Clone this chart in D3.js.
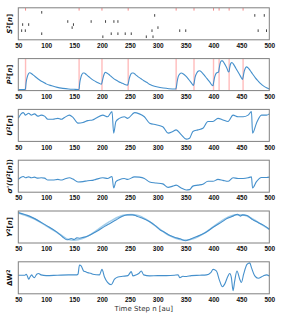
<!DOCTYPE html>
<html>
<head>
<meta charset="utf-8">
<script src="https://cdn.jsdelivr.net/npm/d3@7"></script>
<style>
  html, body { margin: 0; padding: 0; background: #fff; }
  svg { display: block; font-family: "DejaVu Sans", sans-serif; }
  .tick text { font-size: 6.5px; font-weight: bold; fill: #111; }
  .ylab { font-size: 7px; font-weight: bold; fill: #111; }
</style>
</head>
<body>
<svg id="viz" width="284" height="320"></svg>
<script>
// x domain of every panel
const T_START = 50, T_END = 500;
const X_TICKS = [50, 100, 150, 200, 250, 300, 350, 400, 450, 500];

// input raster: [time, neuron row]
const inputSpikes = [
  [201.6,0],[279.5,0],[291.5,0],
  [92,1],[216.6,1],[228.6,1],[241.7,1],[252.5,1],
  [56,2],[62.6,2],[289.7,2],[339.4,2],[350.2,2],[480,2],[495,2],
  [146.5,3],[300.4,3],
  [57.8,4],[68.6,4],[148.9,4],
  [138.7,5],[180.6,5],[206.4,5],[221.4,5],[228.6,5],
  [294.5,7],[474,7],[491,7],
  [92,8]
];
// output spikes (red)
const outputSpikes = [63, 159, 200, 247, 333, 365, 400, 410, 428, 453];

// P^2[n]
const P = [
  [50,0.03],[62,0.03],[63,0.08],[64,0.25],[66,0.42],[68,0.52],[70,0.56],[72,0.55],[76,0.50],[80,0.44],
  [85,0.37],[90,0.31],[95,0.26],[100,0.21],[110,0.15],[120,0.10],[130,0.07],[140,0.05],[150,0.04],[158,0.035],
  [159,0.05],[160,0.22],[162,0.40],[164,0.50],[166,0.55],[168,0.55],[172,0.50],[176,0.44],[180,0.38],[185,0.32],
  [190,0.27],[195,0.23],[199,0.20],
  [200,0.25],[202,0.40],[204,0.52],[206,0.57],[208,0.56],[212,0.51],[216,0.45],[220,0.39],[225,0.33],[230,0.28],
  [235,0.24],[240,0.20],[246,0.17],
  [247,0.22],[249,0.38],[251,0.49],[254,0.55],[256,0.55],[260,0.50],[265,0.43],[270,0.37],[275,0.31],[280,0.26],
  [285,0.20],[290,0.16],[300,0.11],[310,0.08],[320,0.06],[332,0.05],
  [333,0.08],[335,0.30],[337,0.45],[340,0.53],[342,0.55],[346,0.52],[350,0.46],[355,0.36],[360,0.25],[364,0.16],
  [365,0.22],[367,0.42],[370,0.55],[373,0.61],[375,0.62],[379,0.57],[383,0.49],[388,0.38],[393,0.27],[399,0.15],
  [400,0.24],[402,0.42],[404,0.52],[406,0.56],[408,0.57],[409,0.58],
  [410,0.68],[412,0.86],[414,0.93],[416,0.93],[418,0.89],[421,0.80],[424,0.70],[427,0.58],
  [428,0.60],[429,0.72],[431,0.85],[433,0.88],[436,0.82],[440,0.70],[444,0.58],[448,0.46],[452,0.35],
  [453,0.42],[455,0.60],[457,0.70],[459,0.74],[462,0.71],[466,0.62],[470,0.52],[475,0.40],[480,0.30],[485,0.21],
  [490,0.14],[495,0.09],[500,0.05]
];

// U^2[n]
const U = [
  [50,0.72],[55,0.86],[59,0.90],[63,0.82],[68.6,0.88],[73,0.82],[79,0.86],[85,0.79],[91,0.82],[97,0.79],
  [103,0.69],[112,0.69],[121,0.72],[127,0.69],[133,0.75],[141.7,0.82],[148,0.75],[157,0.57],[166,0.59],[174.6,0.65],
  [183,0.67],[189,0.72],[201.6,0.82],[210,0.77],[218,0.93],[221,0.26],[225,0.62],[231,0.72],[240,0.77],[246,0.72],
  [258.5,0.90],[267,0.86],[276,0.77],[285.5,0.57],[297,0.52],[309,0.46],[318.5,0.26],[327,0.31],[333,0.36],[342,0.21],
  [351,0.07],[357,0.10],[363,0.31],[372,0.36],[381,0.41],[390,0.62],[399,0.62],[408,0.72],[417,0.67],[426,0.62],
  [435,0.82],[444,0.77],[453,0.77],[462,0.82],[468,0.93],[470,0.26],[477,0.57],[486,0.82],[495,0.82],[500,0.86]
];

// sigma'(U^2[n])
const S = [
  [50,0.40],[55,0.47],[59,0.49],[63,0.45],[68.6,0.48],[73,0.45],[79,0.47],[85,0.44],[91,0.45],[97,0.44],
  [103,0.38],[112,0.38],[121,0.40],[127,0.38],[133,0.41],[141.7,0.45],[148,0.41],[157,0.32],[166,0.33],[174.6,0.36],
  [183,0.37],[189,0.40],[201.6,0.45],[210,0.43],[218,0.49],[221,0.13],[225,0.33],[231,0.39],[240,0.43],[246,0.40],
  [258.5,0.48],[267,0.47],[276,0.43],[285.5,0.32],[297,0.29],[309,0.26],[318.5,0.15],[327,0.19],[333,0.22],[342,0.13],
  [351,0.07],[357,0.08],[363,0.19],[372,0.22],[381,0.25],[390,0.34],[399,0.34],[408,0.40],[417,0.37],[426,0.34],
  [435,0.45],[444,0.43],[453,0.43],[462,0.45],[468,0.48],[470,0.13],[477,0.33],[486,0.46],[495,0.46],[500,0.47]
];

// Y^2[n]: target and output
const target = [
  [50,0.94],[75,0.78],[100,0.54],[125,0.27],[140,0.11],[150,0.09],[165,0.14],[180,0.27],[200,0.51],[220,0.73],
  [240,0.87],[252,0.89],[265,0.86],[280,0.73],[300,0.48],[320,0.24],[340,0.11],[350,0.09],[365,0.14],[380,0.27],
  [400,0.51],[420,0.75],[440,0.88],[455,0.87],[470,0.75],[485,0.59],[500,0.43]
];
const output = [
  [50,0.95],[70,0.84],[100,0.55],[120,0.33],[130,0.18],[137,0.10],[145,0.14],[150,0.11],[155,0.16],[160,0.15],
  [165,0.17],[175,0.22],[190,0.36],[205,0.52],[215,0.62],[225,0.72],[235,0.82],[245,0.88],[255,0.88],[262,0.84],
  [270,0.79],[285,0.67],[295,0.55],[305,0.40],[310,0.36],[320,0.25],[330,0.18],[340,0.13],[350,0.07],[358,0.12],
  [370,0.20],[385,0.32],[400,0.50],[415,0.66],[425,0.77],[435,0.84],[443,0.90],[448,0.84],[452,0.88],[460,0.86],
  [470,0.73],[480,0.64],[490,0.55],[500,0.43]
];

// Delta W^2
const dW = [
  [50,0],[62,0],[64,0.08],[66,-0.03],[68.6,-0.3],[71,-0.13],[74,0.03],[76,-0.08],[79,-0.18],[83,0.08],
  [86.5,0.13],[90.7,0.03],[100,-0.03],[120,0],[140,0.03],[155,0.03],[157,0.08],[159.7,0.78],[163,0.7],[167,0.33],
  [170,0.28],[174.6,0.2],[180,0.15],[183.6,0.08],[195.6,0.03],[200,0.45],[204.5,-0.13],[210,-0.55],[216.6,-0.73],[222.5,-0.3],
  [228.6,-0.13],[237.5,-0.08],[246.5,-0.03],[252.5,0.28],[255.5,-0.05],[261.5,0.03],[266,0.13],[270.5,0.33],[274.7,0.03],[285.5,-0.05],
  [300,-0.03],[315.5,-0.03],[330,0],[336.5,0.03],[339.5,-0.18],[345,-0.08],[351.5,-0.1],[360,-0.03],[375.5,0],[387.5,0.03],
  [395,0.2],[399.3,0.45],[405,0.33],[411,-0.43],[416,-0.88],[420,-0.68],[426,-0.05],[429,0.13],[432,-0.18],[435,-1.18],
  [438,-0.43],[442,0.33],[447,-0.3],[450,-0.55],[454,0.08],[460,0.83],[465,0.95],[468,0.58],[474,-0.05],[480,-0.23],
  [489,-0.05],[495,0.03],[500,-0.05]
];

const X0 = 18.3, X1 = 269.3;
const TOP0 = 7.8, STEP = 50.8, PH = 32;
const BLUE = "#4590cc", LIGHT = "#a3cdea";

const svg = d3.select("#viz");
const x = d3.scaleLinear().domain([T_START, T_END]).range([X0, X1]);

function panel(i, yDomain, label) {
  const top = TOP0 + i * STEP;
  const y = d3.scaleLinear().domain(yDomain).range([top + PH, top]);
  const g = svg.append("g");
  g.append("g")
    .attr("transform", `translate(0,${top + PH})`)
    .call(d3.axisBottom(x).tickValues(X_TICKS).tickSize(0).tickPadding(3.5))
    .call(a => a.select(".domain").remove());
  const lab = g.append("text").attr("class", "ylab")
    .attr("transform", `translate(12,${top + PH / 2}) rotate(-90)`)
    .attr("text-anchor", "middle");
  label(lab);
  return { g, y, top };
}
function frame(p) {
  p.g.append("rect")
    .attr("x", X0).attr("y", p.top).attr("width", X1 - X0).attr("height", PH)
    .attr("fill", "none").attr("stroke", "#808080").attr("stroke-width", 1);
}
function mathLabel(sel, parts) {
  parts.forEach(([t, opt]) => {
    const ts = sel.append("tspan").text(t);
    if (opt === "i") ts.attr("font-style", "italic");
    if (opt === "sup") ts.attr("font-size", "5px").attr("dy", "-2.5");
    if (opt === "down") ts.attr("dy", "2.5");
  });
}
const line = (y) => d3.line().x(d => x(d[0])).y(d => y(d[1])).curve(d3.curveMonotoneX);

// 1: raster
const p1 = panel(0, [-1, 9.5], s => mathLabel(s, [["S","i"],["2","sup"],["[","down"],["n","i"],["]"]]));
p1.g.selectAll("line.in").data(inputSpikes).join("line")
  .attr("x1", d => x(d[0])).attr("x2", d => x(d[0]))
  .attr("y1", d => p1.y(d[1]) - 1.3).attr("y2", d => p1.y(d[1]) + 1.3)
  .attr("stroke", "#111").attr("stroke-width", 0.8);
p1.g.selectAll("line.out").data(outputSpikes).join("line")
  .attr("x1", d => x(d)).attr("x2", d => x(d))
  .attr("y1", p1.y(9) - 1.3).attr("y2", p1.y(9) + 1.3)
  .attr("stroke", "#f26b6b").attr("stroke-width", 0.8);
frame(p1);

// 2: P
const p2 = panel(1, [0, 1], s => mathLabel(s, [["P","i"],["2","sup"],["[","down"],["n","i"],["]"]]));
p2.g.selectAll("line.sp").data(outputSpikes).join("line")
  .attr("x1", d => x(d)).attr("x2", d => x(d))
  .attr("y1", p2.top).attr("y2", p2.top + PH)
  .attr("stroke", "#ff4040").attr("stroke-opacity", 0.35).attr("stroke-width", 1.4);
p2.g.append("path").datum(P).attr("d", line(p2.y))
  .attr("fill", "none").attr("stroke", BLUE).attr("stroke-width", 1.1);
frame(p2);

// 3: U
const p3 = panel(2, [0, 1], s => mathLabel(s, [["U","i"],["2","sup"],["[","down"],["n","i"],["]"]]));
p3.g.append("path").datum(U).attr("d", line(p3.y))
  .attr("fill", "none").attr("stroke", BLUE).attr("stroke-width", 1.1);
frame(p3);

// 4: sigma'
const p4 = panel(3, [0, 1], s => mathLabel(s, [["σ'(", "i"],["U","i"],["2","sup"],["[","down"],["n","i"],["])"]]));
p4.g.append("path").datum(S).attr("d", line(p4.y))
  .attr("fill", "none").attr("stroke", BLUE).attr("stroke-width", 1.1);
frame(p4);

// 5: Y target / output
const p5 = panel(4, [0, 1], s => mathLabel(s, [["Y","i"],["2","sup"],["[","down"],["n","i"],["]"]]));
p5.g.append("path").datum(target).attr("d", line(p5.y))
  .attr("fill", "none").attr("stroke", LIGHT).attr("stroke-width", 1.6);
p5.g.append("path").datum(output).attr("d", line(p5.y))
  .attr("fill", "none").attr("stroke", BLUE).attr("stroke-width", 1.1);
frame(p5);

// 6: delta W
const p6 = panel(5, [-1.42, 1.03], s => mathLabel(s, [["ΔW"],["2","sup"]]));
p6.g.append("path").datum(dW).attr("d", line(p6.y))
  .attr("fill", "none").attr("stroke", BLUE).attr("stroke-width", 1.1);
frame(p6);

svg.append("text")
  .attr("x", (X0 + X1) / 2).attr("y", 310.5)
  .attr("text-anchor", "middle")
  .attr("font-size", "7px").attr("fill", "#333")
  .text("Time Step n [au]");
</script>
</body>
</html>
